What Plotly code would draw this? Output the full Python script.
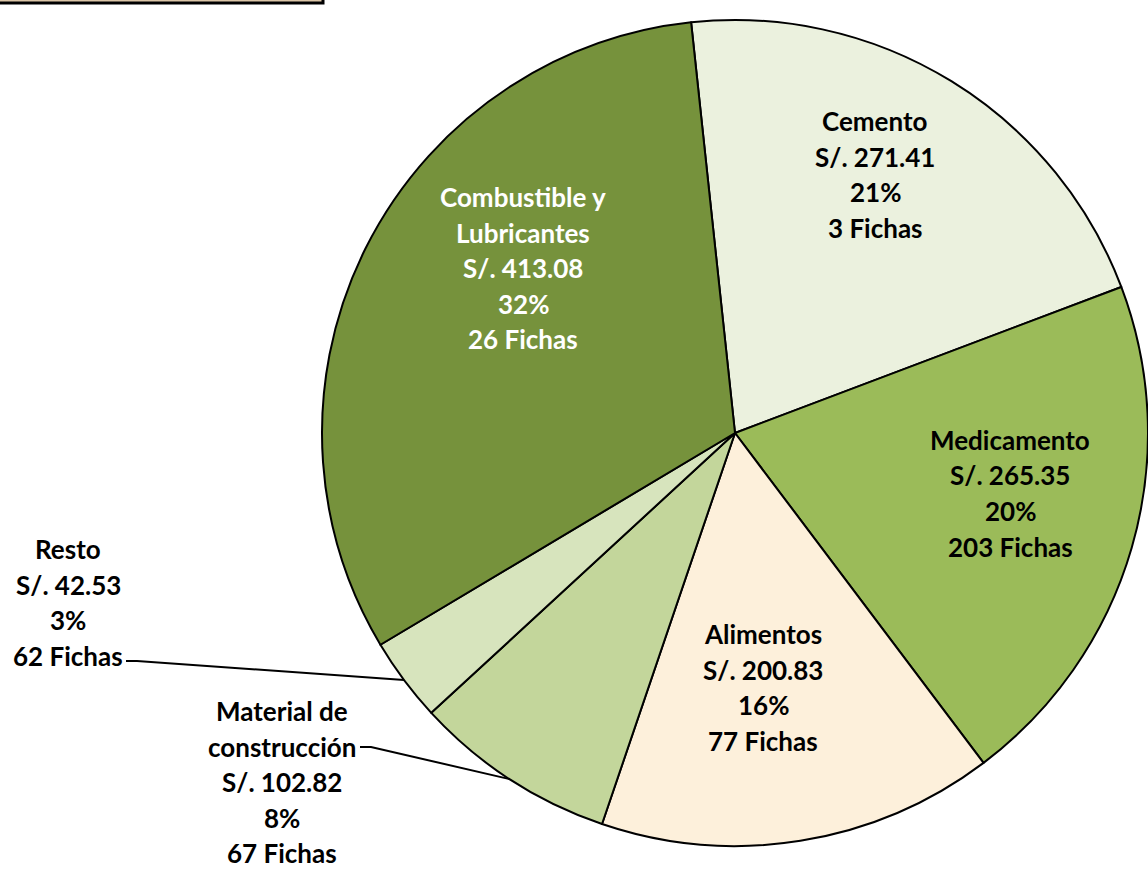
import plotly.graph_objects as go
import math

# ---- data ----
categories = ["Cemento", "Medicamento", "Alimentos", "Material de construcción", "Resto",
              "Combustible y Lubricantes"]
amounts = [271.41, 265.35, 200.83, 102.82, 42.53, 413.08]
pct_labels = [21, 20, 16, 8, 3, 32]
fichas = [3, 203, 77, 67, 62, 26]
label_lines = [
    ["Cemento"],
    ["Medicamento"],
    ["Alimentos"],
    ["Material de", "construcción"],
    ["Resto"],
    ["Combustible y", "Lubricantes"],
]
colors = ["#EBF1DE", "#9BBB59", "#FDF0DB", "#C3D69B", "#D7E4BD", "#76923C"]
text_colors = ["black", "black", "black", "black", "black", "white"]

W, H = 1148, 872
# layout (pixel positions of label blocks: centre x, first-line y)
label_pos = [(875, 121), (1010, 440), (763, 634), (282, 711), (68, 549), (523, 197)]
line_gap = 35.5
outside = {3: (360, 747), 4: (126, 661)}  # leader line start (label end)

# pie geometry
dom_x = (322 / W, 1.0)
dom_y = ((H - 433 - 413) / H, (H - 433 + 413) / H)
cx = W * (dom_x[0] + dom_x[1]) / 2
cy = H * (1 - (dom_y[0] + dom_y[1]) / 2)
r = min(W * (dom_x[1] - dom_x[0]), H * (dom_y[1] - dom_y[0])) / 2
rotation = -6.1

total = sum(amounts)
pcts = [a / total * 100 for a in amounts]


def px(x):
    return x / W


def py(y):
    return 1 - y / H


fig = go.Figure(go.Pie(
    labels=categories,
    values=amounts,
    sort=False,
    direction="clockwise",
    rotation=rotation,
    marker=dict(colors=colors, line=dict(color="black", width=2)),
    textinfo="none",
    hoverinfo="label+value+percent",
    domain=dict(x=list(dom_x), y=list(dom_y)),
    showlegend=False,
))

annotations = []
shapes = []
FONT = "Lato"
for i, cat in enumerate(categories):
    lines = label_lines[i] + ["S/. %.2f" % amounts[i], "%d%%" % pct_labels[i], "%d Fichas" % fichas[i]]
    x0, y0 = label_pos[i]
    for k, ln in enumerate(lines):
        annotations.append(dict(
            x=px(x0), y=py(y0 + k * line_gap), xref="paper", yref="paper",
            text="<b>%s</b>" % ln, showarrow=False, xanchor="center", yanchor="middle",
            font=dict(family=FONT, size=26, color=text_colors[i]),
        ))

# leader lines for outside labels, ending at the slice mid-point on the rim
cum = 0
mids = []
for p in pcts:
    mids.append(rotation + (cum + p / 2) * 3.6)
    cum += p
for i, (sx, sy) in outside.items():
    a = math.radians(mids[i])
    ex = cx + r * math.sin(a)
    ey = cy - r * math.cos(a)
    shapes.append(dict(type="path", xref="paper", yref="paper",
                       path="M %f %f L %f %f L %f %f" % (px(sx), py(sy), px(sx + 11), py(sy),
                                                         px(ex), py(ey)),
                       line=dict(color="black", width=2)))

# partially visible title box at the top-left
shapes.append(dict(type="rect", xref="paper", yref="paper",
                   x0=px(-10), x1=px(323), y0=py(3), y1=py(-30),
                   fillcolor="#DCC6A8", line=dict(color="black", width=3)))

fig.update_layout(
    width=W, height=H,
    margin=dict(l=0, r=0, t=0, b=0),
    paper_bgcolor="white",
    plot_bgcolor="white",
    annotations=annotations,
    shapes=shapes,
)

fig.write_html("out.html", config={"displayModeBar": False},
               post_script="document.body.style.margin='0';")
